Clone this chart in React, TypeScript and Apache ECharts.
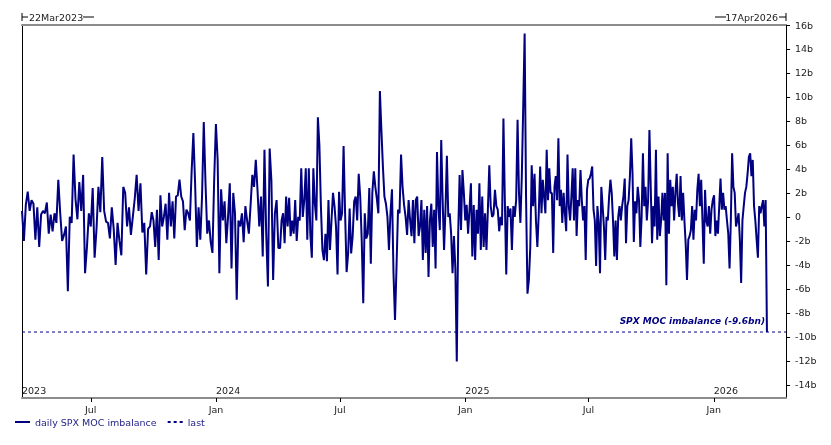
import React, { useEffect, useRef } from "react";
import * as echarts from "echarts";

// Segment boundaries (dates) and the values read in each segment
const SEGMENT_BOUNDS = ["2023-03-22", "2023-09-26", "2024-04-04", "2024-10-12", "2025-04-21", "2025-10-29", "2026-03-20"];

const seg2023a = [0.5, -2.0, 1.0, 2.1, 0.5, 1.4, 1.1, -1.9, 0.8, -2.5, 0.2, 0.5, 0.3, 1.2, -1.4, 0.2, -1.2, 0.3, -0.5, 3.1, 0.3, -2.0, -1.5, -0.8, -6.2, 0.0, -0.5, 5.2, 1.5, -0.2, 2.9, 0.5, 3.5, -4.7, -2.5, 0.3, -0.8, 2.4, -3.4, -1.0, 2.5, 0.4, 5.0, 0.5, -0.4, -0.5, -1.8, 0.8, -1.0, -4.0, -0.5, -2.0, -3.2, 2.5, 2.0, -0.8, 0.8, -1.5, 0.0, 1.5, 3.5, 0.5, 2.8, -1.3, -0.5, -4.8, -1.0];

const seg2023b = [-0.8, 0.4, -0.3, -2.5, 0.6, -3.6, 1.8, -0.8, 0.0, 1.1, -1.9, 2.0, -0.8, 1.3, -1.8, 1.7, 1.8, 3.1, 1.7, 1.3, -1.1, 0.6, 0.3, -0.3, 3.8, 7.0, 2.8, -2.5, 0.8, -1.9, 1.7, 7.9, 2.8, -1.4, -0.3, -2.1, -3.0, 3.1, 7.75, 4.75, -4.7, 2.3, -0.3, 1.3, -2.2, 0.0, 2.8, -4.3, 2.0, 0.3, -6.9, -0.3, -0.8, 0.3, -2.1, 0.9, -0.3, -1.4, 1.0, 3.5, 2.5, 4.75, 2.2, -0.8, 1.7, -3.3, 5.6, -1.4, -5.8, 5.7, 3.0, -5.25, 0.3, 1.4, -2.6];

const seg2024a = [-2.6, -0.3, 0.3, -2.2, 1.7, -0.8, 1.6, -1.6, -0.3, -1.4, 1.4, -2.0, 0.0, -0.3, 4.05, 0.0, 1.4, 4.05, -1.9, 4.05, -1.4, -3.4, 4.05, 1.1, -0.3, 8.3, 6.0, 0.9, -2.75, -3.6, -1.4, -3.7, 1.4, -2.75, -0.3, 2.0, 0.9, -0.8, -4.8, 2.1, -0.3, 0.3, 5.9, 0.3, -4.6, -3.05, 0.7, -3.05, -1.6, 1.3, 1.7, -0.3, 3.6, 1.7, -2.0, -7.2, 0.3, -1.8, -1.4, 2.4, -3.9, 2.0, 3.8, 2.5, 1.5, 0.3, 10.5, 7.25, 4.2, 1.7, 1.1, 0.0, -2.75, 0.3, 2.3, -4.7, -8.6, -4.15, 0.6, 0.3, 5.2, 2.5, 1.0, 0.0, -1.5, 1.4];

const seg2024b = [-0.3, -1.6, 1.4, -2.2, 1.4, 1.7, -1.6, -0.8, 1.4, -3.6, 0.6, -3.0, 0.9, -5.0, -0.3, 1.1, -2.5, 0.6, -4.3, 5.4, 0.9, -1.1, 6.4, 1.4, -2.75, 0.6, 5.1, 0.0, 0.3, -1.4, -4.7, -1.6, -4.3, -12.05, -1.4, 3.5, -1.1, 3.9, 2.0, -0.3, 1.0, -1.4, 0.6, 2.8, -3.3, 1.0, -3.6, 0.6, -1.4, 2.8, -2.75, 1.7, -2.5, 0.3, -2.75, 0.6, 4.3, 0.9, 0.0, 0.2, 2.25, 0.9, 0.6, -1.2, 0.0, -0.7, 8.2, 1.4, -4.8, 0.9, 0.0, 0.7, -2.75, 0.9, 0.0, 1.4, 8.1, 2.0, -0.5, 3.4, 9.2, 15.3, 1.7, -6.4, -5.25, -2.5, 4.3, 0.9, 3.6, -0.3, -2.5, 0.3];

const seg2025a = [4.2, 0.3, 3.1, 1.7, 0.3, 5.6, 1.4, 4.05, 2.0, 2.0, -3.0, 2.5, 3.4, 1.4, 6.55, 0.9, 2.25, -0.5, 2.0, 0.3, -1.2, 5.2, 0.9, -0.3, 1.7, 4.05, -0.3, 4.05, -1.6, 1.4, 0.9, 3.9, 1.4, -0.3, 0.9, -3.6, 2.25, 3.1, 3.2, 3.6, 4.2, 0.6, -0.3, -4.1, 0.9, -0.5, -4.7, 2.5, 0.9, -0.8, -3.6, 0.0, -0.3, 1.7, 3.1, 2.0, -0.3, -3.3, -0.3, -3.6, 0.0, 0.9, -0.3, 0.9, 1.7, 3.2, -2.2, 0.9, 1.4, 3.4, 6.55, 3.6, -2.1, 1.3, 0.3, 2.5, 1.4, -2.5, 0.0, 5.3, 0.9, 2.5, -0.3, 1.4, 7.25, 2.5, -2.2, 0.9, -0.8, 5.6, -1.9, 1.7, -1.6, -0.3, 2.0, -0.3, 2.0, -5.7, 5.3, -1.4];

const seg2025b = [3.1, 0.9, 2.5, -0.3, 2.0, 3.6, 1.1, 0.0, 3.4, -0.3, 2.0, -0.3, -2.3, -5.25, -1.9, -1.6, -1.1, 0.9, -1.9, 0.6, -0.3, 2.25, 3.6, 0.9, 3.1, -0.3, -3.9, 2.25, -0.3, -0.8, 0.9, -1.4, 0.6, 1.4, 1.8, -1.6, -0.3, -1.4, 0.9, 3.2, 0.6, 2.0, 0.6, 0.9, -0.3, -1.4, -4.3, -0.3, 5.3, 2.5, 2.0, -0.8, -0.3, 0.3, -1.9, -5.5, -0.3, 0.9, 2.0, 2.5, 3.6, 5.0, 5.3, 3.4, 4.75, 0.9, -0.3, -1.9, -3.4, 0.9, 0.3, 0.9, 1.4, -0.8, 1.4, -9.6];

const SEGMENTS = [seg2023a, seg2023b, seg2024a, seg2024b, seg2025a, seg2025b];

const LAST_VALUE = -9.6;
const AXIS_START = "2023-03-22";
const AXIS_END = "2026-04-17";
const Y_TICKS = [-14, -12, -10, -8, -6, -4, -2, 0, 2, 4, 6, 8, 10, 12, 14, 16];
const MONTH_TICKS = ["2023-07-01", "2024-01-01", "2024-07-01", "2025-01-01", "2025-07-01", "2026-01-01"];
const YEAR_TICKS = ["2023-03-22", "2024-01-01", "2025-01-01", "2026-01-01"];

const ts = (s: string) => {
  const [y, m, d] = s.split("-").map(Number);
  return new Date(y, m - 1, d).getTime();
};

const FONT = "DejaVu Sans";

export default function App() {
  const ref = useRef<HTMLDivElement>(null);
  useEffect(() => {
    if (!ref.current) return;
    const chart = echarts.init(ref.current, null, { renderer: "svg" });

    const points: [number, number][] = [];
    SEGMENTS.forEach((vals, si) => {
      const a = ts(SEGMENT_BOUNDS[si]);
      const b = ts(SEGMENT_BOUNDS[si + 1]);
      const isLast = si === SEGMENTS.length - 1;
      const n = isLast ? vals.length - 1 : vals.length;
      vals.forEach((v, j) => {
        points.push([a + ((b - a) * j) / n, v]);
      });
    });

    const xMin = ts(AXIS_START);
    const xMax = ts(AXIS_END);
    const textColor = "#222";

    chart.setOption({
      animation: false,
      grid: { left: 22, right: 45, top: 25, bottom: 47, containLabel: false },
      legend: {
        left: 15,
        top: 417,
        padding: 0,
        itemWidth: 15,
        itemHeight: 2,
        itemGap: 11,
        data: [
          { name: "daily SPX MOC imbalance", icon: "rect" },
          { name: "last", icon: "path://M0,0h3v2h-3z M6,0h3v2h-3z M12,0h3v2h-3z" },
        ],
        textStyle: { color: "#24248a", fontSize: 9.5, fontFamily: FONT },
      },
      xAxis: [
        {
          type: "value",
          position: "bottom",
          min: xMin,
          max: xMax,
          axisLine: { show: true, onZero: false, lineStyle: { color: "#8c8c8c", width: 2 } },
          axisTick: { show: true, customValues: MONTH_TICKS.map(ts), length: 4, lineStyle: { color: "#000", width: 1 } },
          axisLabel: {
            show: true,
            customValues: MONTH_TICKS.map(ts),
            formatter: (v: number) => (new Date(v).getMonth() === 0 ? "Jan" : "Jul"),
            color: textColor,
            fontSize: 9.5,
            fontFamily: FONT,
            margin: 6,
          },
          splitLine: { show: false },
        },
        {
          type: "value",
          position: "bottom",
          min: xMin,
          max: xMax,
          axisLine: { show: false, onZero: false },
          axisTick: { show: false },
          axisLabel: {
            show: true,
            inside: true,
            customValues: YEAR_TICKS.map(ts),
            formatter: (v: number) => String(new Date(v).getFullYear()),
            color: textColor,
            fontSize: 9.5,
            fontFamily: FONT,
            align: "left",
            margin: 3,
          },
          splitLine: { show: false },
        },
        {
          type: "value",
          position: "top",
          min: xMin,
          max: xMax,
          axisLine: { show: true, onZero: false, lineStyle: { color: "#8c8c8c", width: 2 } },
          axisTick: { show: false },
          axisLabel: { show: false },
          splitLine: { show: false },
        },
      ],
      yAxis: [
        {
          type: "value",
          position: "right",
          min: -15.1,
          max: 16,
          axisLine: { show: true, onZero: false, lineStyle: { color: "#000", width: 1 } },
          axisTick: { show: true, customValues: Y_TICKS, length: 4, lineStyle: { color: "#000" } },
          axisLabel: {
            customValues: Y_TICKS,
            formatter: (v: number) => (v === 0 ? "0" : v + "b"),
            color: textColor,
            fontSize: 9.5,
            fontFamily: FONT,
            margin: 9,
          },
          splitLine: { show: false },
        },
        {
          type: "value",
          position: "left",
          min: -15.1,
          max: 16,
          axisLine: { show: true, onZero: false, lineStyle: { color: "#000", width: 1 } },
          axisTick: { show: false },
          axisLabel: { show: false },
          splitLine: { show: false },
        },
      ],
      series: [
        {
          name: "daily SPX MOC imbalance",
          type: "line",
          data: points,
          symbol: "none",
          showSymbol: false,
          lineStyle: { color: "#000080", width: 2 },
          itemStyle: { color: "#000080" },
        },
        {
          name: "last",
          type: "line",
          data: [
            [xMin, LAST_VALUE],
            [xMax, LAST_VALUE],
          ],
          symbol: "none",
          showSymbol: false,
          lineStyle: { color: "#000080", width: 1, type: [3, 3] },
          itemStyle: { color: "#000080" },
        },
      ],
      graphic: [
        { type: "line", shape: { x1: 22, y1: 13, x2: 22, y2: 21 }, style: { stroke: "#000", lineWidth: 1 } },
        { type: "line", shape: { x1: 22, y1: 17, x2: 28, y2: 17 }, style: { stroke: "#000", lineWidth: 1 } },
        {
          type: "text",
          x: 29,
          y: 17,
          style: { text: "22Mar2023", fill: textColor, font: `9.5px "${FONT}"`, textAlign: "left", textVerticalAlign: "middle" },
        },
        { type: "line", shape: { x1: 83, y1: 17, x2: 94, y2: 17 }, style: { stroke: "#000", lineWidth: 1 } },
        { type: "line", shape: { x1: 715, y1: 17, x2: 726, y2: 17 }, style: { stroke: "#000", lineWidth: 1 } },
        {
          type: "text",
          x: 778,
          y: 17,
          style: { text: "17Apr2026", fill: textColor, font: `9.5px "${FONT}"`, textAlign: "right", textVerticalAlign: "middle" },
        },
        { type: "line", shape: { x1: 779, y1: 17, x2: 786, y2: 17 }, style: { stroke: "#000", lineWidth: 1 } },
        { type: "line", shape: { x1: 786, y1: 13, x2: 786, y2: 21 }, style: { stroke: "#000", lineWidth: 1 } },
        {
          type: "text",
          x: 765,
          y: 321,
          style: {
            text: "SPX MOC imbalance (-9.6bn)",
            fill: "#000080",
            font: `italic bold 9px "${FONT}"`,
            textAlign: "right",
            textVerticalAlign: "middle",
          },
        },
      ],
    });
    return () => chart.dispose();
  }, []);
  return <div ref={ref} style={{ position: "fixed", left: 0, top: 0, width: 831, height: 445 }} />;
}
